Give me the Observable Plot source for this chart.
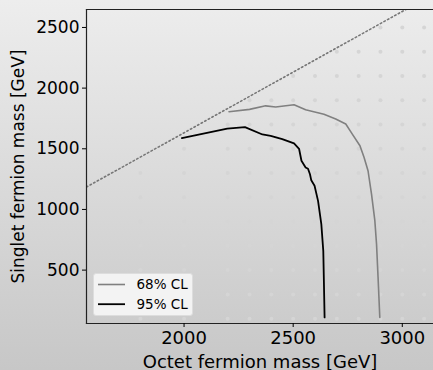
<!DOCTYPE html>
<html><head><meta charset="utf-8">
<script src="https://cdn.jsdelivr.net/npm/d3@7"></script>
<script src="https://cdn.jsdelivr.net/npm/@observablehq/plot@0.6"></script>
<style>
html,body{margin:0;padding:0;}
body{width:433px;height:370px;overflow:hidden;background:linear-gradient(#ededed,#c7c7c7);font-family:"DejaVu Sans",sans-serif;position:relative;}
#chart{position:absolute;left:0;top:0;}
#legend{position:absolute;left:93px;top:273px;width:100px;height:43px;box-sizing:border-box;background:#f3f3f3;border:1px solid #dddddd;border-radius:3px;}
#legend svg{position:absolute;left:-1px;top:-1px;}
</style></head><body><div id="chart"></div><div id="legend"></div>
<script>
// 68% CL contour
const cl68Octet   = [2206, 2300, 2374, 2420, 2504, 2557, 2641, 2695, 2741, 2771, 2806, 2825, 2843, 2859, 2874, 2882, 2889, 2897];
const cl68Singlet = [1805, 1825, 1854, 1844, 1863, 1821, 1785, 1745, 1704, 1621, 1525, 1428, 1319, 1127, 912, 714, 440, 110];
// 95% CL contour
const cl95Octet   = [1990, 2198, 2279, 2359, 2397, 2450, 2504, 2527, 2538, 2557, 2568, 2577, 2583, 2598, 2614, 2629, 2638, 2641, 2644];
const cl95Singlet = [1588, 1667, 1679, 1618, 1607, 1580, 1544, 1500, 1401, 1346, 1335, 1290, 1240, 1195, 1071, 879, 659, 385, 110];
// kinematic boundary (dotted diagonal)
const diagOctet   = [1553, 3020];
const diagSinglet = [1185, 2652];
// scan grid points
const gridOctet   = [1800, 2000, 2200, 2300, 2400, 2500, 2600, 2700, 2800, 2900, 3000, 3100];
const gridSinglet = [100, 300, 500, 700, 900, 1100, 1300, 1500, 1700, 1900, 2100, 2300, 2500];
// axes
const xTicks = [2000, 2500, 3000];
const yTicks = [500, 1000, 1500, 2000, 2500];
const xLabel = "Octet fermion mass [GeV]";
const yLabel = "Singlet fermion mass [GeV]";
const seriesNames = ["68% CL", "95% CL"];
const seriesColors = ["#808080", "#000000"];

const cl68 = cl68Octet.map((o, i) => ({o, s: cl68Singlet[i]}));
const cl95 = cl95Octet.map((o, i) => ({o, s: cl95Singlet[i]}));
const diag = diagOctet.map((o, i) => ({o, s: diagSinglet[i]}));
const grid = [];
for (const o of gridOctet) for (const s of gridSinglet) if (s <= o - 400) grid.push({o, s});

const chart = Plot.plot({
  width: 433, height: 370,
  marginLeft: 86, marginTop: 9, marginBottom: 47, marginRight: 0,
  style: {background: "transparent", fontFamily: "DejaVu Sans, sans-serif", color: "#000"},
  x: {domain: [1553, 3143]},
  y: {domain: [60, 2648]},
  marks: [
    Plot.dot(grid, {x: "o", y: "s", r: 2, fill: "#d5d5d5", stroke: "none"}),
    Plot.line(diag, {x: "o", y: "s", stroke: "#777", strokeWidth: 1.6, strokeDasharray: "1.5,2.6", clip: true}),
    Plot.line(cl68, {x: "o", y: "s", stroke: seriesColors[0], strokeWidth: 1.6}),
    Plot.line(cl95, {x: "o", y: "s", stroke: seriesColors[1], strokeWidth: 1.8}),
    Plot.frame({anchor: "left", stroke: "#222", strokeWidth: 1.2}),
    Plot.frame({anchor: "top", stroke: "#222", strokeWidth: 1.2}),
    Plot.frame({anchor: "bottom", stroke: "#222", strokeWidth: 1.2}),
    Plot.axisX({ticks: xTicks, tickSize: 4, tickPadding: 4, fontSize: 18, tickFormat: d => String(d),
      label: xLabel, labelAnchor: "center", labelArrow: "none", labelOffset: 44}),
    Plot.axisY({ticks: yTicks, tickSize: 4, tickPadding: 3, fontSize: 17, tickFormat: d => String(d),
      label: yLabel, labelAnchor: "center", labelArrow: "none", labelOffset: 75})
  ]
});
chart.querySelectorAll("text").forEach(t => t.setAttribute("fill", "#000"));
document.getElementById("chart").appendChild(chart);

// legend
const ns = "http://www.w3.org/2000/svg";
const lsvg = document.createElementNS(ns, "svg");
lsvg.setAttribute("width", 100); lsvg.setAttribute("height", 43);
seriesNames.forEach((name, i) => {
  const y = 11.5 + i * 19.7;
  const ln = document.createElementNS(ns, "line");
  ln.setAttribute("x1", 5); ln.setAttribute("x2", 32);
  ln.setAttribute("y1", y); ln.setAttribute("y2", y);
  ln.setAttribute("stroke", seriesColors[i]); ln.setAttribute("stroke-width", i ? 1.8 : 1.6);
  lsvg.appendChild(ln);
  const tx = document.createElementNS(ns, "text");
  tx.setAttribute("x", 43.5); tx.setAttribute("y", y);
  tx.setAttribute("dy", "0.36em");
  tx.setAttribute("font-size", "13.5px");
  tx.setAttribute("font-family", "DejaVu Sans, sans-serif");
  tx.setAttribute("fill", "#000");
  tx.textContent = name;
  lsvg.appendChild(tx);
});
document.getElementById("legend").appendChild(lsvg);
</script>
</body></html>
